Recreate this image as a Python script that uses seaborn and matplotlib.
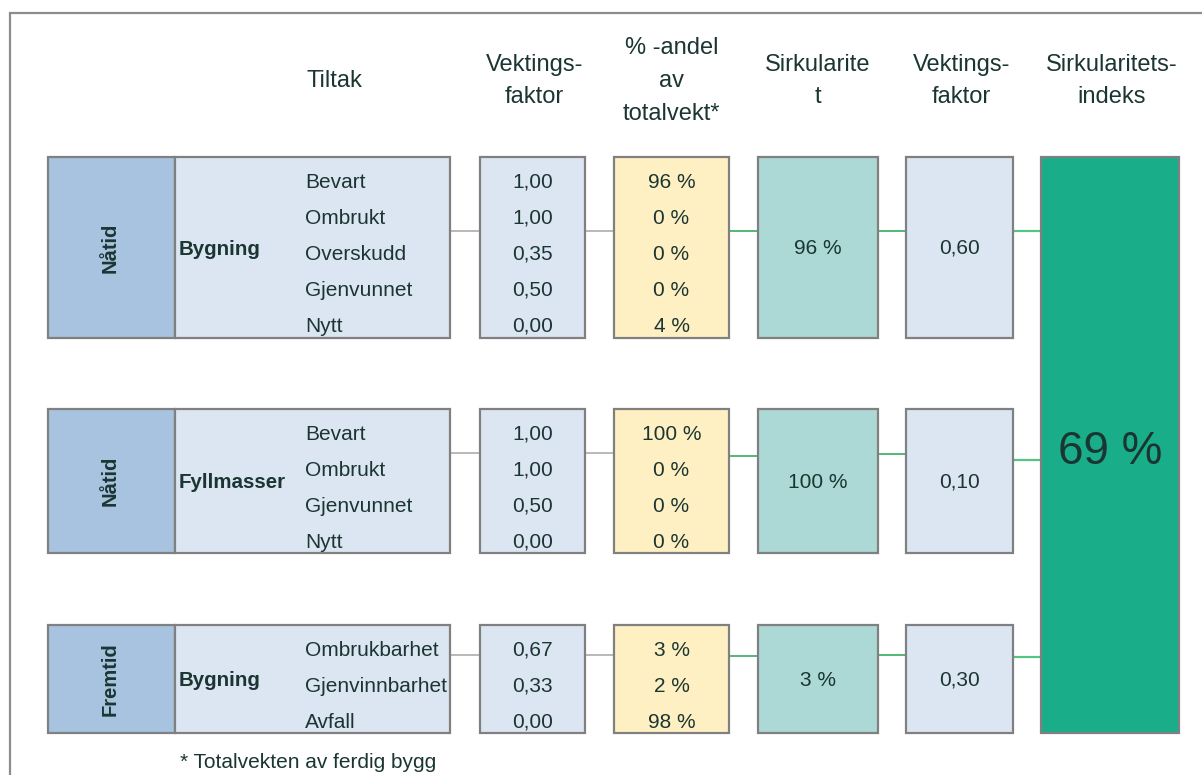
import matplotlib
matplotlib.use("Agg")
import matplotlib.pyplot as plt
from matplotlib.patches import Rectangle
import seaborn as sns

# ---------------- data ----------------
phases = ["Nåtid", "Nåtid", "Fremtid"]
materials = ["Bygning", "Fyllmasser", "Bygning"]
items = [
    ["Bevart", "Ombrukt", "Overskudd", "Gjenvunnet", "Nytt"],
    ["Bevart", "Ombrukt", "Gjenvunnet", "Nytt"],
    ["Ombrukbarhet", "Gjenvinnbarhet", "Avfall"],
]
weights = [
    [1.00, 1.00, 0.35, 0.50, 0.00],
    [1.00, 1.00, 0.50, 0.00],
    [0.67, 0.33, 0.00],
]
shares = [
    [96, 0, 0, 0, 4],
    [100, 0, 0, 0],
    [3, 2, 98],
]
circularity = [96, 100, 3]
group_weights = [0.60, 0.10, 0.30]
circularity_index = 69
headers = ["Tiltak", "Vektings-\nfaktor", "% -andel\nav\ntotalvekt*",
           "Sirkularite\nt", "Vektings-\nfaktor", "Sirkularitets-\nindeks"]
footnote = "* Totalvekten av ferdig bygg"

# ---------------- style ----------------
sns.set_theme(style="white")
plt.rcParams["font.family"] = ["Liberation Sans", "DejaVu Sans"]

TXT = "#1b3632"
BORDER = "#808080"
C_CAT = "#a7c3e0"
C_LIGHT = "#dce6f2"
C_YEL = "#fff0c4"
C_TEAL = "#acd8d5"
C_GREEN = "#19ae89"

fig = plt.figure(figsize=(12.02, 7.75), dpi=100)
ax = fig.add_axes([0, 0, 1, 1])
ax.set_xlim(0, 1202)
ax.set_ylim(775, 0)
ax.axis("off")

def fmt_num(v):
    return f"{v:.2f}".replace(".", ",")

def fmt_pct(v):
    return f"{v} %"

def box(x0, x1, y0, y1, color, z=2):
    ax.add_patch(Rectangle((x0, y0), x1 - x0, y1 - y0, facecolor=color,
                           edgecolor=BORDER, linewidth=1.6, zorder=z))

# outer frame
ax.plot([9.5, 9.5, 1210], [800, 12.5, 12.5], color="#8c8c8c", lw=1.6, zorder=1,
        solid_joinstyle="miter")

# layout
row_top = [157, 409, 625]
row_bot = [338, 553, 733]
link_y = [[231, 231, 231, 231, 231],
          [453, 453, 456, 454, 460],
          [655, 655, 656, 655, 657]]
cat_x = (48, 175)
til_x = (175, 450)
w_x = (480, 585)
s_x = (614, 729)
c_x = (758, 878)
g_x = (906, 1013)
i_x = (1041, 1179)
item_x = 305
mat_x = 179
FS = 15

# headers
head_cx = [334, sum(w_x) / 2 + 2, sum(s_x) / 2, sum(c_x) / 2, sum(g_x) / 2 + 2, sum(i_x) / 2 + 2]
for cx, h in zip(head_cx, headers):
    lines = h.split("\n")
    n = len(lines)
    for k, ln in enumerate(lines):
        yy = 81 + (k - (n - 1) / 2) * 32.5
        ax.text(cx, yy, ln, ha="center", va="center", fontsize=17, color=TXT)

# index box
box(i_x[0], i_x[1], row_top[0], row_bot[-1], C_GREEN)
ax.text(sum(i_x) / 2, 452, fmt_pct(circularity_index), ha="center", va="center",
        fontsize=33, color=TXT, zorder=5)

for r in range(3):
    t, b = row_top[r], row_bot[r]
    mid = (t + b) / 2
    box(cat_x[0], cat_x[1], t, b, C_CAT)
    box(til_x[0], til_x[1], t, b, C_LIGHT)
    box(w_x[0], w_x[1], t, b, C_LIGHT)
    box(s_x[0], s_x[1], t, b, C_YEL)
    box(c_x[0], c_x[1], t, b, C_TEAL)
    box(g_x[0], g_x[1], t, b, C_LIGHT)

    ax.text(sum(cat_x) / 2 - 1, mid, phases[r], rotation=90, ha="center", va="center",
            fontsize=14.5, fontweight="bold", color=TXT, zorder=5)
    ax.text(mat_x, mid + 2, materials[r], ha="left", va="center",
            fontsize=14.8, fontweight="bold", color=TXT, zorder=5)
    for k, (it, wv, sv) in enumerate(zip(items[r], weights[r], shares[r])):
        yy = t + 25 + k * 36
        ax.text(item_x, yy, it, ha="left", va="center", fontsize=FS, color=TXT, zorder=5)
        ax.text(sum(w_x) / 2, yy, fmt_num(wv), ha="center", va="center",
                fontsize=FS, color=TXT, zorder=5)
        ax.text(sum(s_x) / 2, yy, fmt_pct(sv), ha="center", va="center",
                fontsize=FS, color=TXT, zorder=5)
    ax.text(sum(c_x) / 2, mid + 1, fmt_pct(circularity[r]), ha="center", va="center",
            fontsize=FS, color=TXT, zorder=5)
    ax.text(sum(g_x) / 2, mid + 1, fmt_num(group_weights[r]), ha="center", va="center",
            fontsize=FS, color=TXT, zorder=5)

    # connectors
    ly = link_y[r]
    ax.plot([til_x[1], w_x[0]], [ly[0]] * 2, color="#a6a6a6", lw=1.1, zorder=1)
    ax.plot([w_x[1], s_x[0]], [ly[1]] * 2, color="#a6a6a6", lw=1.1, zorder=1)
    ax.plot([s_x[1], c_x[0]], [ly[2]] * 2, color="#22a64e", lw=1.1, zorder=1)
    ax.plot([c_x[1], g_x[0]], [ly[3]] * 2, color="#22a64e", lw=1.1, zorder=1)
    ax.plot([g_x[1], i_x[0]], [ly[4]] * 2, color="#55c584", lw=1.6, zorder=1)

ax.text(180, 763, footnote, ha="left", va="center", fontsize=15, color=TXT)

fig.savefig("out.png", dpi=100)
